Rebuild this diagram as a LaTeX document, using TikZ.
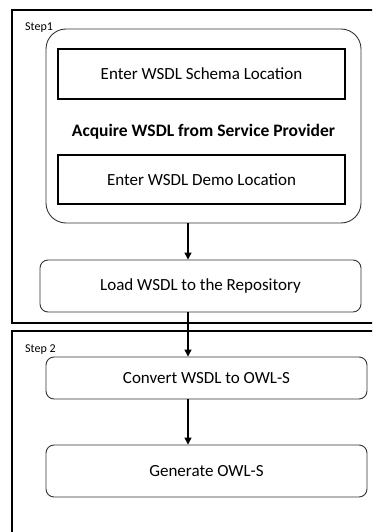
\documentclass[tikz,border=0pt]{standalone}
\usepackage{fontspec}
\setmainfont{Carlito}
\usetikzlibrary{arrows.meta}
\tikzset{
  frame/.style={draw=black, line width=1.3pt},
  roundbox/.style={draw=black!80, line width=0.9pt, rounded corners=8pt, inner sep=0pt, font=\fontsize{17}{20}\selectfont},
  plainbox/.style={draw=black, line width=1.6pt, inner sep=0pt, font=\fontsize{17}{20}\selectfont},
  steplabel/.style={font=\fontsize{12}{14}\selectfont, anchor=west, inner sep=0pt},
  flow/.style={-{Triangle[length=7pt,width=7pt]}, line width=1.3pt}
}
\begin{document}
\begin{tikzpicture}[x=1pt,y=-1pt]
\useasboundingbox (0,0) rectangle (372,532);
\clip (0,0) rectangle (372,532);
% stage frames
\draw[frame] (12,10) rectangle (390,323);
\draw[frame] (12,331) rectangle (390,545);
\node[steplabel] (s1) at (25,28) {Step1};
\node[steplabel] (s2) at (25,350) {Step 2};
% step 1
\node[roundbox, rounded corners=20pt, minimum width=315pt, minimum height=194pt] (acq) at (203.5,126) {};
\node[plainbox, minimum width=287pt, minimum height=50pt] (schema) at (201.5,74) {Enter WSDL Schema Location};
\node[font=\fontsize{17.5}{20}\selectfont\bfseries, inner sep=0pt] (acqlabel) at (203.5,132) {Acquire WSDL from Service Provider};
\node[plainbox, minimum width=287pt, minimum height=49pt] (demo) at (201.5,179.5) {Enter WSDL Demo Location};
\node[roundbox, minimum width=321pt, minimum height=52pt] (load) at (200.5,286) {Load WSDL to the Repository};
% step 2
\node[roundbox, minimum width=321pt, minimum height=42pt] (convert) at (206.5,378) {Convert WSDL to OWL-S};
\node[roundbox, minimum width=321pt, minimum height=52pt] (gen) at (206.5,471) {Generate OWL-S};
% connectors
\coordinate (ax) at (188,0);
\draw[flow] (acq.south -| ax) -- (load.north -| ax);
\draw[flow] (load.south -| ax) -- (convert.north -| ax);
\draw[flow] (convert.south -| ax) -- (gen.north -| ax);
\end{tikzpicture}
\end{document}
